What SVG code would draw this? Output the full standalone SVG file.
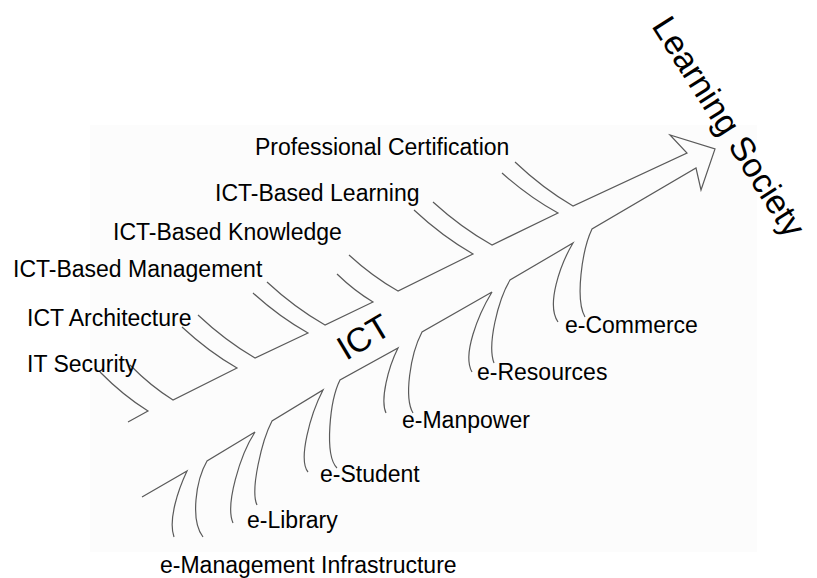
<svg xmlns="http://www.w3.org/2000/svg" width="817" height="578" viewBox="0 0 817 578">
<style>
.ln{fill:none;stroke:#5a5a5a;stroke-width:1.2;stroke-linejoin:miter}
.lb{font-family:"Liberation Sans",Arial,sans-serif;font-size:23px;fill:#000}
</style>
<rect x="0" y="0" width="817" height="578" fill="#fff"/>
<rect x="90" y="125" width="667" height="427" fill="#fcfcfc"/>
<g id="connectors">
<path class="ln" d="M515,162 Q542.8,188.4 573,206 L687,153 L670,135 L715,149 L701,190 L696,168 L592,229 C582,250 575,300 585,317"/>
<path class="ln" d="M502,173 Q528.9,197 558,213 L492,245 Q461.3,227.8 433,202"/>
<path class="ln" d="M414,210 Q442.3,236.4 473,254 L398,291 Q372.5,276.6 349,255"/>
<path class="ln" d="M337,274 Q354.3,290.8 373,302 L325,325 Q294.8,307.8 267,282"/>
<path class="ln" d="M253,293 Q279.4,317 308,333 L255,358 Q225.4,340.8 198,315"/>
<path class="ln" d="M182,327 Q208.4,351.6 237,368 L173,400 Q150.6,386 130,365"/>
<path class="ln" d="M100,372 Q123,395.4 148,411 L128,422"/>
<path class="ln" d="M142,497 L187,471 C178,490 168,520 174,537"/>
<path class="ln" d="M203,537 C190,520 196,480 207,461 L255,432 C240,455 225,505 233,523"/>
<path class="ln" d="M257,505 C250,490 262,440 272,421 L323,390 C310,415 298,460 308,472"/>
<path class="ln" d="M337,468 C324,455 330,400 340,380 L398,348 C388,368 380,400 386,413"/>
<path class="ln" d="M413,413 C404,398 410,355 422,332 L492,292 C478,315 462,355 472,372"/>
<path class="ln" d="M494,363 C487,345 498,300 510,280 L573,243 C560,265 546,305 558,322"/>
</g>
<g id="ict"><text class="lb" style="font-size:34px" transform="translate(346,361) rotate(-31)">ICT</text></g>
<g id="learning-society"><text class="lb" style="font-size:34px" transform="translate(651,26) rotate(57.5)">Learning Society</text></g>
<g id="professional-certification"><text class="lb" x="255" y="155">Professional Certification</text></g>
<g id="ict-based-learning"><text class="lb" x="215" y="201">ICT-Based Learning</text></g>
<g id="ict-based-knowledge"><text class="lb" x="113" y="240">ICT-Based Knowledge</text></g>
<g id="ict-based-management"><text class="lb" x="13" y="277">ICT-Based Management</text></g>
<g id="ict-architecture"><text class="lb" x="27" y="326">ICT Architecture</text></g>
<g id="it-security"><text class="lb" x="27" y="372">IT Security</text></g>
<g id="e-commerce"><text class="lb" x="565" y="333">e-Commerce</text></g>
<g id="e-resources"><text class="lb" x="477" y="380">e-Resources</text></g>
<g id="e-manpower"><text class="lb" x="402" y="428">e-Manpower</text></g>
<g id="e-student"><text class="lb" x="320" y="482">e-Student</text></g>
<g id="e-library"><text class="lb" x="247" y="528">e-Library</text></g>
<g id="e-management-infrastructure"><text class="lb" x="160" y="573">e-Management Infrastructure</text></g>
</svg>
